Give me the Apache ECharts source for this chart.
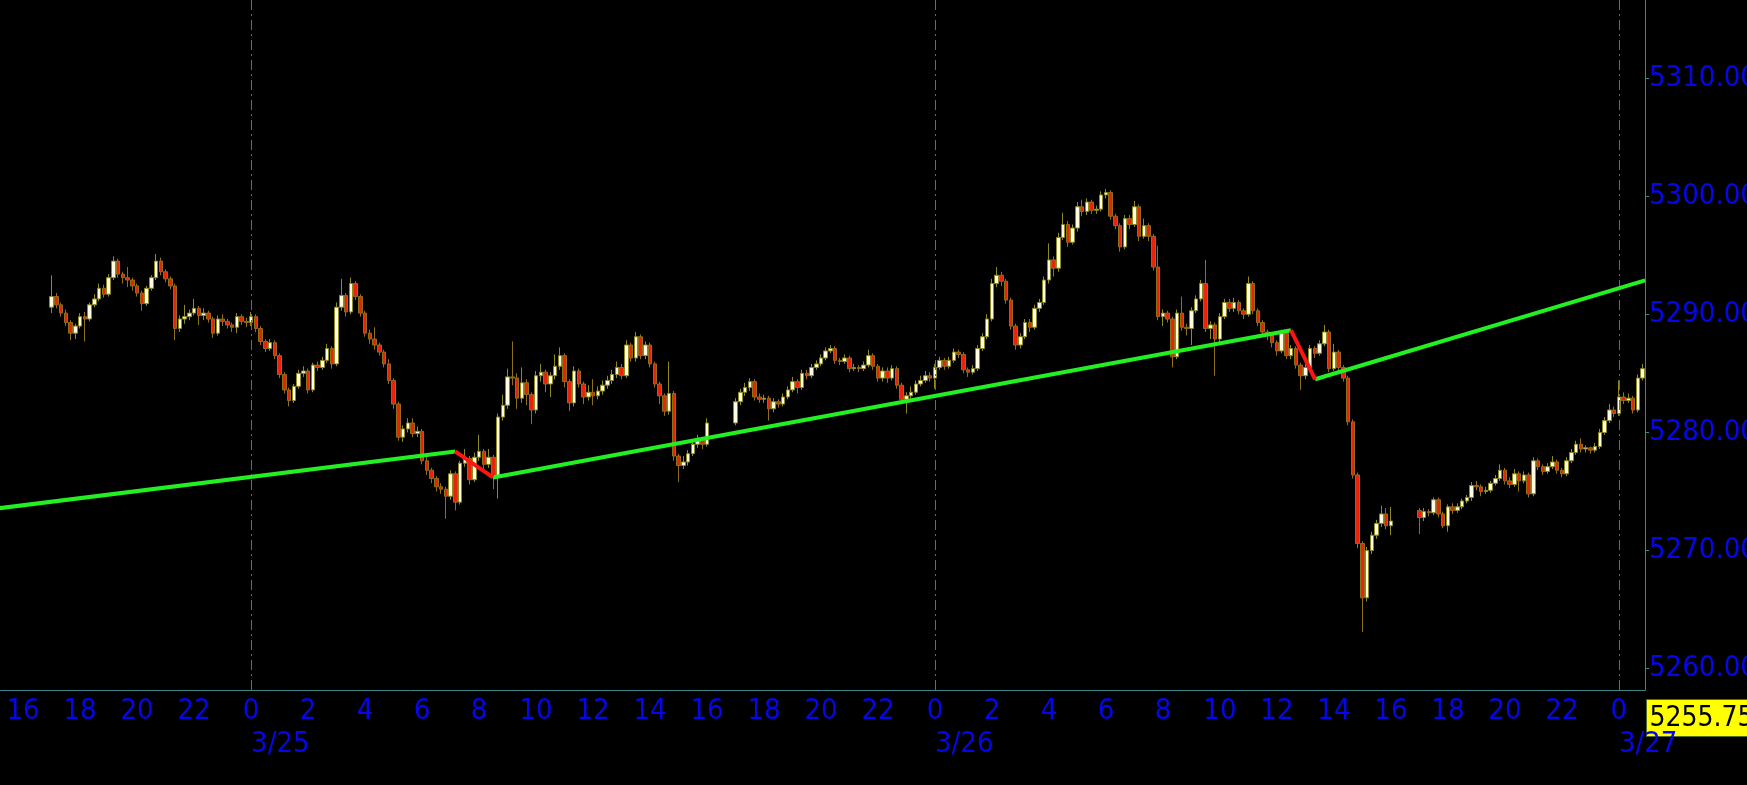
<!DOCTYPE html>
<html>
<head>
<meta charset="utf-8">
<script src="https://cdn.jsdelivr.net/npm/echarts@6/dist/echarts.min.js"></script>
<style>
  html, body { margin: 0; padding: 0; background: #000; }
  #chart { width: 1747px; height: 785px; }
</style>
</head>
<body>
<div id="chart"></div>
<script>
// 10-minute bars; first slot on the axis is 3/24 15:10, last 3/27 00:50
const firstSlot = { month: 3, day: 24, minute: 15 * 60 + 10 };
const slotMinutes = 10;
const slotCount = 347;

const sessionStarts = ['3/24 17:00', '3/25 17:00', '3/26 17:00'];
const dayStarts = ['3/25 00:00', '3/26 00:00', '3/27 00:00'];

// [open, close, low, high]
const session1 = [
  [5290.6,5291.5,5290.1,5293.3],[5291.5,5290.8,5290.5,5291.8],[5290.8,5290.1,5289.8,5291.0],[5290.1,5289.3,5289.0,5290.4],
  [5289.3,5288.4,5287.8,5289.5],[5288.4,5289.0,5287.9,5289.2],[5289.0,5289.8,5288.8,5290.1],[5289.8,5289.6,5287.7,5290.2],
  [5289.6,5290.8,5289.4,5291.0],[5290.8,5291.3,5290.6,5291.7],[5291.3,5292.2,5291.1,5292.6],[5292.2,5291.7,5291.4,5292.5],
  [5291.7,5293.1,5291.5,5293.4],[5293.1,5294.5,5292.9,5294.9],[5294.5,5293.4,5293.1,5294.7],[5293.4,5293.1,5292.6,5293.6],
  [5293.1,5292.9,5292.3,5294.0],[5292.9,5292.4,5292.0,5293.1],[5292.4,5291.8,5291.5,5292.6],[5291.8,5290.9,5290.3,5292.0],
  [5290.9,5292.2,5290.7,5292.4],[5292.2,5293.1,5292.0,5293.3],[5293.1,5294.5,5292.9,5295.1],[5294.5,5293.6,5293.3,5294.8],
  [5293.6,5293.0,5292.7,5293.8],[5293.0,5292.4,5292.1,5293.2],[5292.4,5288.8,5287.8,5292.6],[5288.8,5289.6,5288.5,5289.9],
  [5289.6,5289.8,5289.2,5290.8],[5289.8,5290.1,5289.5,5290.4],[5290.1,5290.5,5289.9,5291.3],[5290.5,5289.9,5289.1,5290.7],
  [5289.9,5290.1,5289.5,5290.5],[5290.1,5289.6,5289.3,5290.3],[5289.6,5288.4,5288.0,5289.8],[5288.4,5289.6,5288.2,5289.9],
  [5289.6,5289.4,5289.0,5290.0],[5289.4,5289.1,5288.8,5289.6],[5289.1,5288.9,5288.5,5289.3],[5288.9,5289.8,5288.4,5290.1],
  [5289.8,5289.4,5289.1,5290.0],[5289.4,5289.3,5288.9,5289.7],[5289.3,5289.8,5289.0,5290.2],[5289.8,5288.8,5288.5,5290.0],
  [5288.8,5287.7,5287.4,5289.0],[5287.7,5287.1,5286.8,5287.9],[5287.1,5287.6,5286.9,5287.9],[5287.6,5286.5,5286.2,5287.8],
  [5286.5,5284.9,5284.6,5286.7],[5284.9,5283.6,5283.3,5285.1],[5283.6,5282.7,5282.2,5283.8],[5282.7,5283.9,5282.5,5284.1],
  [5283.9,5285.0,5283.7,5285.3],[5285.0,5285.2,5284.7,5285.6],[5285.2,5283.6,5283.3,5285.4],[5283.6,5285.7,5283.4,5285.9],
  [5285.7,5285.5,5285.2,5286.0],[5285.5,5286.1,5285.3,5286.4],[5286.1,5287.1,5285.9,5287.5],[5287.1,5285.8,5285.4,5287.3],
  [5285.8,5290.6,5285.6,5291.0],[5290.6,5291.6,5290.3,5293.0],[5291.6,5290.2,5289.8,5291.8],[5290.2,5292.6,5290.0,5293.1],
  [5292.6,5291.5,5291.2,5292.8],[5291.5,5290.1,5289.8,5291.7],[5290.1,5288.4,5288.1,5290.3],[5288.4,5287.9,5287.5,5288.7],
  [5287.9,5287.4,5287.0,5288.9],[5287.4,5286.8,5286.5,5287.6],[5286.8,5285.8,5285.5,5287.0],[5285.8,5284.4,5284.1,5286.2],
  [5284.4,5282.4,5282.0,5284.6],[5282.4,5279.6,5279.3,5282.6],[5279.6,5280.3,5279.2,5280.6],[5280.3,5280.8,5280.0,5281.2],
  [5280.8,5279.9,5279.6,5281.2],[5279.9,5280.1,5279.6,5280.5],[5280.1,5277.6,5277.3,5280.3],[5277.6,5276.8,5276.4,5277.9],
  [5276.8,5276.1,5275.7,5277.0],[5276.1,5275.4,5275.0,5276.3],[5275.4,5275.2,5274.8,5275.7],[5275.2,5274.6,5272.7,5275.4],
  [5274.6,5276.5,5274.3,5276.8],[5276.5,5274.1,5273.4,5276.7],[5274.1,5277.4,5273.9,5277.6],[5277.4,5277.8,5277.1,5278.6],
  [5277.8,5276.0,5275.6,5278.0],[5276.0,5277.9,5275.8,5278.3],[5277.9,5278.4,5277.6,5279.8],[5278.4,5277.3,5276.8,5278.6],
  [5277.3,5277.9,5277.0,5278.6],[5277.9,5276.2,5275.2,5278.1],[5276.2,5281.3,5274.4,5281.6],[5281.3,5282.3,5281.0,5283.2],
  [5282.3,5284.7,5282.0,5285.4],[5284.7,5284.6,5284.0,5287.7],[5284.6,5282.9,5282.0,5285.0],[5282.9,5284.2,5282.5,5285.5],
  [5284.2,5283.2,5282.3,5284.5],[5283.2,5281.9,5280.7,5283.4],[5281.9,5284.8,5281.6,5285.2],[5284.8,5285.1,5284.3,5285.8],
  [5285.1,5284.1,5283.4,5285.3],[5284.1,5284.8,5283.0,5285.1],[5284.8,5285.6,5284.5,5286.6],[5285.6,5286.5,5285.3,5287.2],
  [5286.5,5284.3,5283.8,5286.7],[5284.3,5282.5,5281.8,5284.5],[5282.5,5285.2,5282.2,5285.6],[5285.2,5284.1,5283.8,5285.4],
  [5284.1,5283.0,5282.4,5284.3],[5283.0,5283.4,5282.7,5284.0],[5283.4,5283.1,5282.3,5284.5],[5283.1,5283.5,5282.8,5283.9],
  [5283.5,5284.0,5283.2,5284.4],[5284.0,5284.4,5283.7,5284.8],[5284.4,5284.9,5284.1,5285.3],[5284.9,5285.5,5284.6,5286.0],
  [5285.5,5284.8,5284.5,5285.8],[5284.8,5287.4,5284.6,5287.8],[5287.4,5286.3,5286.0,5287.6],[5286.3,5288.1,5286.0,5288.5],
  [5288.1,5286.5,5286.2,5288.3],[5286.5,5287.4,5286.2,5287.7],[5287.4,5285.8,5285.5,5287.6],[5285.8,5284.1,5283.8,5286.0],
  [5284.1,5283.1,5282.4,5284.3],[5283.1,5281.8,5281.4,5283.3],[5281.8,5283.3,5281.5,5286.0],[5283.3,5278.0,5277.6,5283.5],
  [5278.0,5277.2,5275.8,5278.2],[5277.2,5277.5,5276.9,5278.0],[5277.5,5278.2,5277.2,5278.5],[5278.2,5279.0,5278.0,5279.4],
  [5279.0,5279.4,5278.7,5279.8],[5279.4,5279.0,5278.6,5279.6],[5279.0,5280.8,5278.8,5281.2]
];

const session2 = [
  [5280.8,5282.6,5280.6,5282.9],[5282.6,5283.4,5282.3,5283.7],[5283.4,5283.8,5283.1,5284.2],[5283.8,5284.3,5283.5,5284.6],
  [5284.3,5283.0,5282.7,5284.5],[5283.0,5282.8,5282.5,5283.3],[5282.8,5282.9,5282.5,5283.2],[5282.9,5282.0,5281.0,5283.1],
  [5282.0,5282.6,5281.7,5282.9],[5282.6,5282.4,5282.1,5282.8],[5282.4,5283.0,5282.2,5283.3],[5283.0,5283.6,5282.8,5283.9],
  [5283.6,5284.3,5283.4,5284.7],[5284.3,5283.8,5283.3,5284.5],[5283.8,5285.0,5283.6,5285.3],[5285.0,5284.8,5284.5,5285.3],
  [5284.8,5285.5,5284.6,5285.8],[5285.5,5285.8,5285.3,5286.1],[5285.8,5286.3,5285.6,5286.6],[5286.3,5286.9,5286.1,5287.2],
  [5286.9,5287.1,5286.7,5287.4],[5287.1,5286.1,5285.8,5287.3],[5286.1,5286.0,5285.7,5286.3],[5286.0,5286.3,5285.8,5286.6],
  [5286.3,5285.4,5285.1,5286.5],[5285.4,5285.5,5285.2,5285.8],[5285.5,5285.4,5285.1,5285.7],[5285.4,5285.7,5285.2,5286.0],
  [5285.7,5286.5,5285.5,5287.0],[5286.5,5285.6,5285.3,5286.7],[5285.6,5284.6,5284.3,5285.8],[5284.6,5285.2,5284.3,5285.5],
  [5285.2,5284.6,5284.2,5285.5],[5284.6,5285.4,5284.4,5285.7],[5285.4,5284.0,5283.7,5285.6],[5284.0,5282.8,5282.5,5284.2],
  [5282.8,5283.1,5281.6,5283.4],[5283.1,5283.4,5282.8,5283.9],[5283.4,5284.1,5283.2,5284.4],[5284.1,5284.4,5283.9,5284.8],
  [5284.4,5284.8,5284.2,5285.2],[5284.8,5284.6,5284.3,5285.1],[5284.6,5285.5,5283.7,5285.8],[5285.5,5286.1,5285.3,5286.4],
  [5286.1,5285.6,5285.3,5286.3],[5285.6,5286.1,5285.4,5286.4],[5286.1,5286.8,5285.9,5287.1],[5286.8,5286.6,5286.3,5287.0],
  [5286.6,5285.3,5285.0,5286.8],[5285.3,5285.1,5284.7,5285.5],[5285.1,5285.4,5284.9,5285.7],[5285.4,5287.1,5285.2,5287.4],
  [5287.1,5288.1,5286.9,5288.4],[5288.1,5289.6,5287.9,5290.0],[5289.6,5292.6,5289.4,5293.0],[5292.6,5293.3,5292.3,5294.0],
  [5293.3,5292.8,5292.4,5293.6],[5292.8,5291.2,5290.9,5293.0],[5291.2,5289.0,5288.7,5291.4],[5289.0,5287.4,5287.0,5289.2],
  [5287.4,5288.1,5287.1,5288.4],[5288.1,5289.3,5287.9,5289.6],[5289.3,5288.9,5288.5,5289.6],[5288.9,5290.5,5288.7,5290.8],
  [5290.5,5291.0,5290.2,5291.3],[5291.0,5292.9,5290.8,5293.2],[5292.9,5294.6,5292.6,5296.0],[5294.6,5293.9,5293.2,5294.9],
  [5293.9,5296.5,5293.6,5296.9],[5296.5,5297.6,5296.3,5298.6],[5297.6,5296.1,5295.7,5297.9],[5296.1,5297.3,5295.9,5297.6],
  [5297.3,5299.1,5297.0,5299.5],[5299.1,5298.7,5298.3,5299.7],[5298.7,5299.5,5298.4,5299.8],[5299.5,5298.8,5298.5,5299.7],
  [5298.8,5298.9,5298.5,5299.2],[5298.9,5300.1,5298.7,5300.4],[5300.1,5300.3,5299.8,5300.6],[5300.3,5298.3,5298.0,5300.5],
  [5298.3,5297.5,5297.2,5298.5],[5297.5,5295.7,5295.3,5297.7],[5295.7,5298.1,5295.5,5298.4],[5298.1,5297.6,5297.2,5298.4],
  [5297.6,5299.1,5297.4,5299.6],[5299.1,5296.6,5296.2,5299.3],[5296.6,5297.5,5296.4,5298.1],[5297.5,5296.6,5296.2,5297.7],
  [5296.6,5294.0,5293.7,5296.8],[5294.0,5289.8,5289.5,5295.8],[5289.8,5290.1,5289.0,5290.4],[5290.1,5289.6,5289.3,5290.3],
  [5289.6,5286.4,5285.5,5289.8],[5286.4,5290.1,5286.2,5290.4],[5290.1,5288.9,5288.6,5291.5],[5288.9,5288.8,5288.2,5289.2],
  [5288.8,5290.3,5287.4,5290.6],[5290.3,5291.3,5290.1,5291.6],[5291.3,5292.6,5291.1,5292.9],[5292.6,5288.8,5288.5,5294.6],
  [5288.8,5289.1,5287.9,5289.4],[5289.1,5287.9,5284.8,5289.3],[5287.9,5289.8,5287.6,5290.1],[5289.8,5291.0,5289.6,5291.3],
  [5291.0,5290.5,5290.2,5291.3],[5290.5,5291.0,5290.2,5291.4],[5291.0,5290.3,5290.0,5291.2],[5290.3,5290.0,5289.6,5290.5],
  [5290.0,5292.6,5289.8,5293.2],[5292.6,5290.3,5290.0,5292.8],[5290.3,5289.3,5289.0,5290.5],[5289.3,5288.5,5288.1,5289.5],
  [5288.5,5288.2,5287.8,5288.7],[5288.2,5287.6,5287.2,5288.4],[5287.6,5286.9,5286.5,5287.8],[5286.9,5288.4,5286.7,5288.7],
  [5288.4,5286.5,5286.2,5288.6],[5286.5,5287.1,5286.2,5287.4],[5287.1,5285.7,5285.4,5287.3],[5285.7,5284.8,5283.6,5285.9],
  [5284.8,5285.5,5284.5,5285.8],[5285.5,5287.1,5285.3,5287.4],[5287.1,5286.7,5286.3,5287.3],[5286.7,5287.5,5286.5,5287.8],
  [5287.5,5288.5,5287.3,5289.1],[5288.5,5285.4,5285.1,5288.7],[5285.4,5286.8,5285.2,5287.5],[5286.8,5285.5,5285.2,5287.0],
  [5285.5,5284.6,5284.3,5285.7],[5284.6,5280.9,5280.6,5284.8],[5280.9,5276.4,5276.1,5281.1],[5276.4,5270.6,5270.2,5276.6],
  [5270.6,5266.0,5263.1,5270.8],[5266.0,5270.0,5265.7,5270.3],[5270.0,5271.3,5269.7,5271.6],[5271.3,5272.3,5271.0,5272.6],
  [5272.3,5273.1,5272.0,5273.8],[5273.1,5272.1,5271.8,5273.6],[5272.1,5272.5,5271.3,5273.7]
];

const session3 = [
  [5273.4,5272.8,5271.4,5273.6],[5272.8,5273.3,5272.5,5273.6],[5273.3,5273.2,5272.9,5273.5],[5273.2,5274.3,5273.0,5274.5],
  [5274.3,5273.1,5272.8,5274.5],[5273.1,5272.1,5271.9,5273.3],[5272.1,5273.7,5271.6,5273.9],[5273.7,5273.4,5273.1,5274.0],
  [5273.4,5273.7,5273.2,5274.0],[5273.7,5274.2,5273.5,5274.4],[5274.2,5274.5,5274.0,5274.7],[5274.5,5275.5,5274.2,5275.8],
  [5275.5,5275.4,5275.1,5275.9],[5275.4,5275.0,5274.6,5275.6],[5275.0,5275.1,5274.8,5275.4],[5275.1,5275.7,5274.9,5275.9],
  [5275.7,5276.1,5275.5,5276.4],[5276.1,5276.8,5275.9,5277.3],[5276.8,5275.9,5275.6,5277.0],[5275.9,5275.6,5275.3,5276.2],
  [5275.6,5276.5,5275.4,5276.9],[5276.5,5275.9,5275.0,5276.7],[5275.9,5276.4,5275.7,5276.7],[5276.4,5274.8,5274.5,5276.6],
  [5274.8,5277.6,5274.6,5277.9],[5277.6,5277.1,5276.8,5277.8],[5277.1,5276.7,5276.4,5277.3],[5276.7,5277.1,5276.5,5277.4],
  [5277.1,5277.5,5276.9,5278.0],[5277.5,5276.8,5276.5,5277.7],[5276.8,5276.5,5276.2,5277.0],[5276.5,5277.6,5276.3,5277.9],
  [5277.6,5278.3,5277.4,5278.6],[5278.3,5279.0,5278.1,5279.3],[5279.0,5278.6,5278.3,5279.5],[5278.6,5278.7,5278.3,5278.9],
  [5278.7,5278.5,5278.2,5278.8],[5278.5,5278.8,5278.3,5279.1],[5278.8,5280.0,5278.6,5280.3],[5280.0,5281.0,5279.8,5281.3],
  [5281.0,5281.9,5280.8,5282.4],[5281.9,5281.6,5281.3,5282.2],[5281.6,5283.0,5281.4,5284.4],[5283.0,5282.7,5282.4,5283.4],
  [5282.7,5282.9,5282.5,5283.3],[5282.9,5281.9,5281.6,5283.1],[5281.9,5284.6,5281.7,5284.9],[5284.6,5285.4,5284.4,5285.8]
];

// trend lines: [hours from 3/25 00:00, price]
const greenLines = [
  [[-8.92, 5273.56], [7.16, 5278.39]],
  [[8.49, 5276.19], [36.49, 5288.65]],
  [[37.34, 5284.50], [48.92, 5292.87]]
];
const redLines = [
  [[7.16, 5278.39], [8.49, 5276.19]],
  [[36.49, 5288.65], [37.34, 5284.50]]
];

const lastPriceTag = '5255.75';

// ---- build axis categories ----
const pad = n => (n < 10 ? '0' : '') + n;
const slots = [];
for (let i = 0; i < slotCount; i++) {
  const t = firstSlot.minute + i * slotMinutes;
  const d = firstSlot.day + Math.floor(t / 1440);
  const m = t % 1440;
  slots.push(`${firstSlot.month}/${d} ${pad(Math.floor(m / 60))}:${pad(m % 60)}`);
}
const hourOf = s => parseInt(s.split(' ')[1].split(':')[0], 10);
const minOf = s => parseInt(s.split(':')[1], 10);

const candles = slots.map(() => ['-', '-', '-', '-']);
[session1, session2, session3].forEach((bars, k) => {
  const start = slots.indexOf(sessionStarts[k]);
  bars.forEach((b, j) => { candles[start + j] = b; });
});

const midnightIdx = slots.indexOf(dayStarts[0]);
const hourMin = (-0.5 - midnightIdx) / 6;
const hourMax = (slotCount - 0.5 - midnightIdx) / 6;

const blue = '#0606ea';
const axisTeal = '#3f8787';
const font = '"DejaVu Sans Condensed", "Liberation Sans", sans-serif';

const chart = echarts.init(document.getElementById('chart'), null, { renderer: 'canvas' });

const lineSeries = (segs, color) => segs.map(seg => ({
  type: 'line', xAxisIndex: 2, yAxisIndex: 0, data: seg,
  symbol: 'none', silent: true, z: 5,
  lineStyle: { color, width: 4 }
}));

chart.setOption({
  animation: false,
  backgroundColor: '#000',
  grid: { left: -3, right: 102, top: 0, bottom: 95, containLabel: false, outerBoundsMode: 'none' },
  xAxis: [
    {
      type: 'category', data: slots, boundaryGap: true,
      axisLine: { onZero: false, lineStyle: { color: axisTeal, width: 1 } },
      axisTick: { inside: true, length: 3, alignWithLabel: true, lineStyle: { color: axisTeal },
        interval: (i, v) => minOf(v) === 0 },
      axisLabel: { color: blue, fontFamily: font, fontSize: 29, margin: 7,
        interval: (i, v) => minOf(v) === 0 && hourOf(v) % 2 === 0,
        formatter: v => String(hourOf(v)) },
      splitLine: { show: false }
    },
    {
      type: 'category', data: slots, boundaryGap: true, position: 'bottom',
      axisLine: { show: false, onZero: false }, axisTick: { show: false },
      axisLabel: { color: blue, fontFamily: font, fontSize: 29, margin: 40, align: 'left',
        interval: (i, v) => dayStarts.includes(v),
        formatter: v => v.split(' ')[0] },
      splitLine: { show: false }
    },
    { type: 'value', min: hourMin, max: hourMax, show: false }
  ],
  yAxis: {
    type: 'value', position: 'right', min: 5258.2, max: 5316.6, splitNumber: 5,
    axisLine: { show: true, onZero: false, lineStyle: { color: axisTeal, width: 1 } },
    axisTick: { show: true, length: 4, lineStyle: { color: axisTeal } },
    axisLabel: { color: blue, fontFamily: font, fontSize: 29, margin: 4,
      showMinLabel: false, showMaxLabel: false, formatter: v => v.toFixed(2) },
    splitLine: { show: false }
  },
  series: [
    {
      type: 'candlestick', xAxisIndex: 0, yAxisIndex: 0, data: candles, barWidth: 4,
      itemStyle: { color: '#fffbe0', color0: '#ea220a', borderColor: '#8f8a20', borderColor0: '#8f7018', borderWidth: 1 },
      markLine: {
        silent: true, symbol: ['none', 'none'], label: { show: false },
        lineStyle: { color: '#3c7c7a', width: 1, type: [10, 4, 2, 4] },
        data: dayStarts.map(d => ({ xAxis: d }))
      }
    },
    ...lineSeries(greenLines, '#22f022'),
    ...lineSeries(redLines, '#ff1414')
  ],
  graphic: [{
    type: 'group', left: 1646, top: 699,
    children: [
      { type: 'rect', shape: { x: 0, y: 0, width: 110, height: 37 }, style: { fill: '#ffff00', stroke: '#4d6b2a', lineWidth: 1 } },
      { type: 'text', x: 3, y: 19, style: { text: lastPriceTag, fill: '#000', font: `28px ${font}`, verticalAlign: 'middle' } }
    ]
  }]
});
</script>
</body>
</html>
